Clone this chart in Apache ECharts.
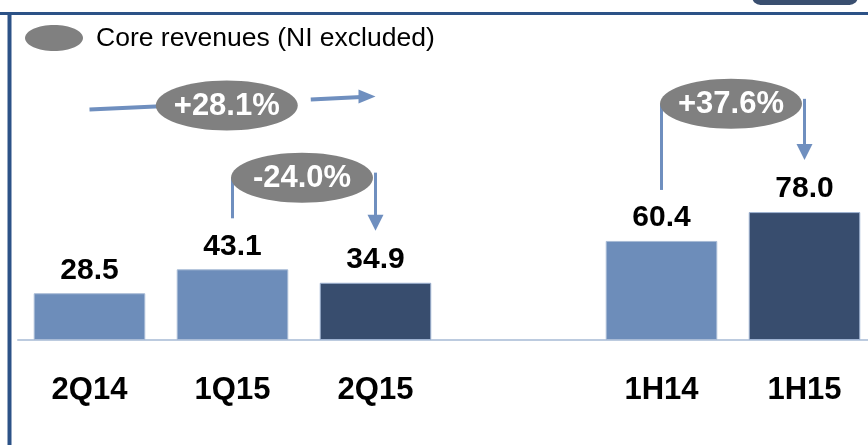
<!DOCTYPE html>
<html>
<head>
<meta charset="utf-8">
<script src="https://cdn.jsdelivr.net/npm/echarts@6/dist/echarts.min.js"></script>
<style>
html,body{margin:0;padding:0;background:#fff;}
#chart{width:868px;height:445px;}
</style>
</head>
<body>
<div id="chart"></div>
<script>
// ---- data ----
var categories = ['2Q14', '1Q15', '2Q15', '', '1H14', '1H15'];
var values = [28.5, 43.1, 34.9, null, 60.4, 78.0];
var isCurrent = [false, false, true, false, false, true];
var legendText = 'Core revenues (NI excluded)';

// growth annotations
var growthLabels = ['+28.1%', '-24.0%', '+37.6%'];
var growthFrom = ['2Q14', '1Q15', '1H14'];
var growthTo = ['2Q15', '2Q15', '1H15'];
var growthLevel = [143, 99, 144]; // y-level (value units) of the bubble
var growthStyle = ['horizontal', 'bracket', 'bracket'];

// ---- style ----
var LIGHT = '#6d8dba', DARK = '#384d6e', GREY = '#808080', ARROW = '#6f8fbf', FRAME = '#2c5287';
var FONT = '"Liberation Sans", Arial, sans-serif';

var chart = echarts.init(document.getElementById('chart'), null, {renderer: 'canvas'});

var option = {
  animation: false,
  grid: {left: 18, width: 858, top: 176, bottom: 105, containLabel: false, outerBoundsMode: 'none'},
  xAxis: {
    type: 'category',
    data: categories,
    axisLine: {show: true, lineStyle: {color: '#bccbdf', width: 2}},
    axisTick: {show: false},
    axisLabel: {color: '#000', fontFamily: FONT, fontWeight: 'bold', fontSize: 31, margin: 35, interval: 0}
  },
  yAxis: {type: 'value', min: 0, max: 100, show: false, splitLine: {show: false}},
  series: [{
    type: 'bar',
    barCategoryGap: '22%',
    data: values.map(function (v, i) {
      return {
        value: v,
        itemStyle: {color: isCurrent[i] ? DARK : LIGHT, borderColor: isCurrent[i] ? '#9fb3d2' : '#a8bbd6', borderWidth: 1}
      };
    }),
    label: {
      show: true, position: 'top', distance: 8,
      color: '#000', fontFamily: FONT, fontWeight: 'bold', fontSize: 30,
      formatter: function (p) { return p.value == null ? '' : p.value.toFixed(1); }
    }
  }]
};
chart.setOption(option);

function px(cat, val) { return chart.convertToPixel({gridIndex: 0}, [cat, val]); }
function valOf(cat) { return values[categories.indexOf(cat)]; }

var g = [];
// frame
g.push({type: 'line', shape: {x1: 0, y1: 13.5, x2: 868, y2: 13.5}, style: {stroke: FRAME, lineWidth: 3}, z: 10});
g.push({type: 'line', shape: {x1: 9.5, y1: 12, x2: 9.5, y2: 445}, style: {stroke: FRAME, lineWidth: 4}, z: 10});
g.push({type: 'rect', shape: {x: 752, y: -12, width: 106, height: 17, r: 9}, style: {fill: '#3a4f70'}, z: 10});
// legend
g.push({type: 'ellipse', shape: {cx: 54, cy: 38, rx: 29, ry: 13}, style: {fill: GREY}, z: 10});
g.push({type: 'text', x: 96, y: 39, style: {text: legendText, fill: '#000', font: '26.5px ' + FONT, textVerticalAlign: 'middle'}, z: 10});

function arrowHead(x, y, dir) { // dir: 'down' or 'right'
  if (dir === 'down') {
    return {type: 'polygon', shape: {points: [[x - 8, y - 16], [x + 8, y - 16], [x, y]]}, style: {fill: ARROW}, z: 11};
  }
  return {type: 'polygon', shape: {points: [[x - 17, y - 7], [x - 17, y + 7], [x, y]]}, style: {fill: ARROW}, z: 11};
}

for (var i = 0; i < growthLabels.length; i++) {
  var a = px(growthFrom[i], growthLevel[i]);
  var b = px(growthTo[i], growthLevel[i]);
  var cy = a[1];
  var cx, rx = 71, ry = 25;
  if (growthStyle[i] === 'horizontal') {
    cx = a[0] + (b[0] - a[0]) * 0.48;
    var y0 = cy + 4, y1 = cy - 9;
    var slope = (y1 - y0) / (b[0] - a[0]);
    g.push({type: 'line', shape: {x1: a[0], y1: y0, x2: cx - rx + 5, y2: y0 + slope * (cx - rx + 5 - a[0])}, style: {stroke: ARROW, lineWidth: 4}, z: 11});
    var sx = cx + rx + 13;
    g.push({type: 'line', shape: {x1: sx, y1: y0 + slope * (sx - a[0]), x2: b[0] - 14, y2: y0 + slope * (b[0] - 14 - a[0])}, style: {stroke: ARROW, lineWidth: 4}, z: 11});
    g.push(arrowHead(b[0], y1, 'right'));
  } else {
    cx = (a[0] + b[0]) / 2 - 2;
    var fromTop = px(growthFrom[i], valOf(growthFrom[i]))[1] - 51;
    var toTip = px(growthTo[i], valOf(growthTo[i]))[1] - 52;
    g.push({type: 'line', shape: {x1: a[0], y1: cy, x2: a[0], y2: fromTop}, style: {stroke: ARROW, lineWidth: 3}, z: 11});
    g.push({type: 'line', shape: {x1: b[0], y1: cy - 5, x2: b[0], y2: toTip - 14}, style: {stroke: ARROW, lineWidth: 3}, z: 11});
    g.push(arrowHead(b[0], toTip, 'down'));
  }
  g.push({type: 'ellipse', shape: {cx: cx, cy: cy, rx: rx, ry: ry}, style: {fill: GREY}, z: 12});
  g.push({type: 'text', x: cx, y: cy + 1, style: {text: growthLabels[i], fill: '#fff', font: 'bold 31px ' + FONT, textAlign: 'center', textVerticalAlign: 'middle'}, z: 13});
}

chart.setOption({graphic: g});
</script>
</body>
</html>
